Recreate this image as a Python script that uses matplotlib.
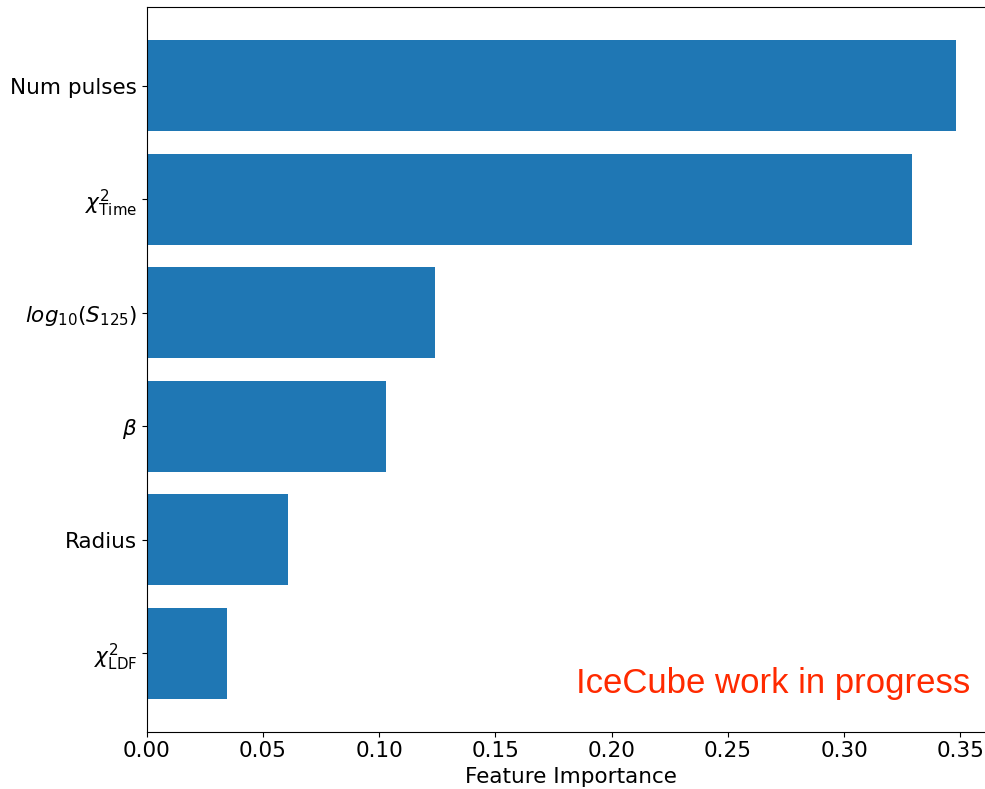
import matplotlib
matplotlib.use("Agg")
import matplotlib.pyplot as plt

# feature names, bottom to top
features = [r"$\chi^2_{\rm LDF}$", "Radius", r"$\beta$",
            r"$log_{10}(S_{125})$", r"$\chi^2_{\rm Time}$", "Num pulses"]
importance = [0.0346, 0.0607, 0.103, 0.124, 0.3293, 0.348]

fig = plt.figure(figsize=(9.85, 7.89), dpi=100)
# axes runs a little past the right edge, as in the reference crop
ax = fig.add_axes([0.1489, 0.0726, 0.8623, 0.9181])

ax.barh(features, importance, color="#1f77b4")
ax.set_xlabel("Feature Importance", fontsize=15.5)
ax.tick_params(axis="both", labelsize=15.5)
ax.set_xticks([0.0, 0.05, 0.10, 0.15, 0.20, 0.25, 0.30, 0.35])
ax.xaxis.set_major_formatter(matplotlib.ticker.FormatStrFormatter("%.2f"))

ax.text(0.985, 0.134, "IceCube work in progress", transform=fig.transFigure,
        ha="right", va="center", fontsize=25, color="#ff2a00",
        family="Liberation Sans")

fig.savefig("out.png", dpi=100)
